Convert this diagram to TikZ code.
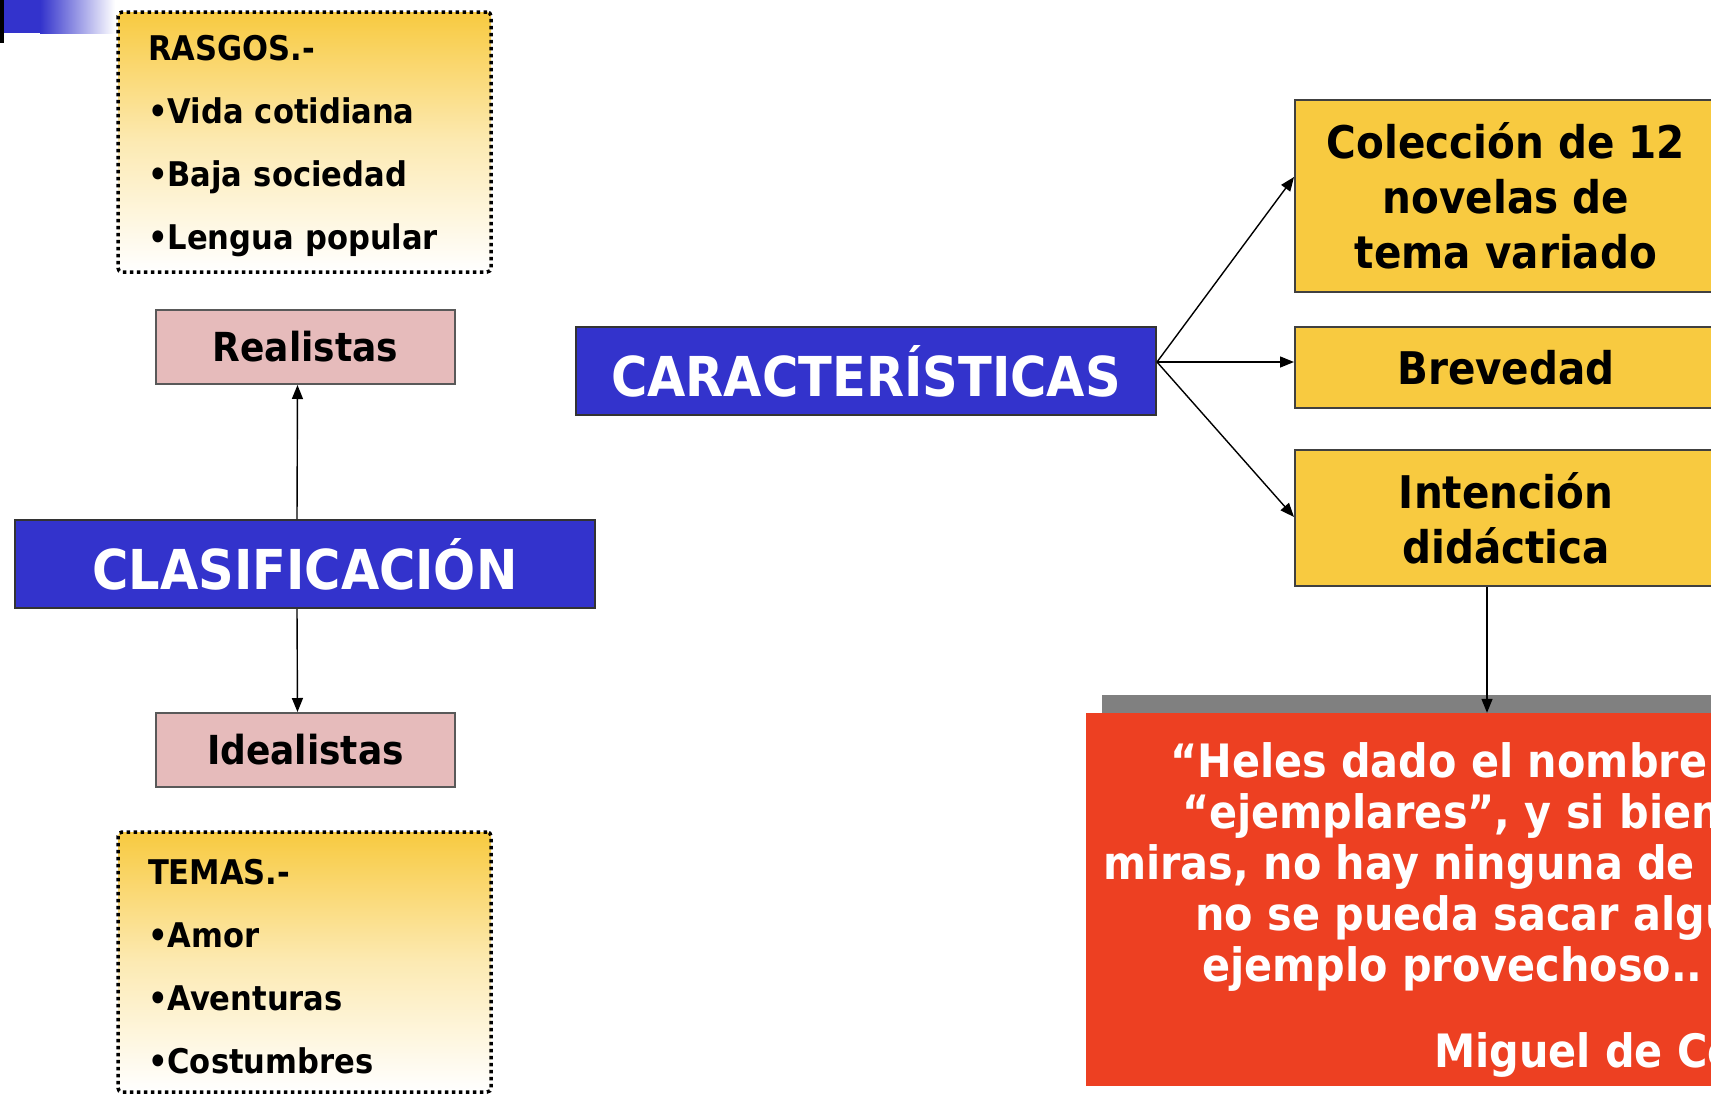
\documentclass[tikz,border=0pt]{standalone}
\usepackage{fontspec}
\setmainfont{DejaVu Sans Condensed}
\usepackage{tikz}
\usetikzlibrary{arrows.meta,shadows}

\definecolor{azul}{RGB}{51,51,204}
\definecolor{rosa}{RGB}{230,187,187}
\definecolor{amarillo}{RGB}{248,202,64}
\definecolor{rojo}{RGB}{237,64,34}

\tikzset{
  bluebox/.style={draw=black!80, line width=2pt, fill=azul, text=white,
    font=\fontsize{55}{60}\selectfont\bfseries,
    minimum width=580pt, minimum height=88pt, inner sep=0pt},
  pinkbox/.style={draw=black!65, line width=2pt, fill=rosa,
    font=\fontsize{40}{46}\selectfont\bfseries,
    minimum width=299pt, minimum height=74pt, inner sep=0pt},
  yellowbox/.style={draw=black!75, line width=2pt, fill=amarillo, align=center,
    font=\fontsize{45}{55}\selectfont\bfseries,
    minimum width=422pt, inner sep=0pt},
  notebox/.style={draw=black, line width=3.5pt, dash pattern=on 3.5pt off 3.5pt,
    rounded corners=4pt, top color=amarillo, bottom color=white,
    middle color=amarillo!40!white, align=left, text width=313pt,
    font=\fontsize{34}{63}\selectfont\bfseries,
    inner xsep=30pt, inner ysep=0pt, minimum height=260pt},
  quoteline/.style={text=white, anchor=base west, inner sep=0pt,
    font=\fontsize{46}{51}\selectfont\bfseries},
  link/.style={->, line width=1.4pt},
}

\begin{document}
\begin{tikzpicture}[x=1pt, y=-1pt, >={Triangle[length=14pt,width=11pt]}]
  \path[use as bounding box, clip] (0,0) rectangle (1711,1095);

  % slide corner
  \fill[azul] (0,0) rectangle (40,33);
  \shade[left color=azul, right color=white] (40,0) rectangle (115,33);
  \fill[black] (0,0) rectangle (4,43);

  % Nodes
  \node[notebox] (rasgos) at (304.5,142) {\rule{0pt}{33pt}RASGOS.-\\•Vida cotidiana\\•Baja sociedad\\•Lengua popular};
  \node[pinkbox] (real) at (305.5,347) {Realistas};
  \node[bluebox] (clas) at (305,564) {CLASIFICACIÓN};
  \node[pinkbox] (ideal) at (305.5,750) {Idealistas};
  \node[notebox] (temas) at (304.5,962) {\rule{0pt}{35pt}TEMAS.-\\•Amor\\•Aventuras\\•Costumbres};

  \node[bluebox] (carac) at (866,371) {CARACTERÍSTICAS};
  \node[yellowbox, minimum height=192pt] (col) at (1506,196) {Colección de 12\\novelas de\\tema variado};
  \node[yellowbox, minimum height=81pt] (brev) at (1506,367.5) {Brevedad};
  \node[yellowbox, minimum height=136pt] (inten) at (1506,518) {Intención\\didáctica};

  \node[fill=rojo, minimum width=744pt, minimum height=373pt, inner sep=0pt,
    drop shadow={shadow xshift=16pt, shadow yshift=18pt, fill=black!50, opacity=1}] (cita) at (1458,899.5) {};
  \node[quoteline] (q1) at (1170,777) {“Heles dado el nombre};
  \node[quoteline] (q2) at (1182,828) {“ejemplares”, y si bien};
  \node[quoteline] (q3) at (1103,879) {miras, no hay ninguna de};
  \node[quoteline] (q4) at (1195,930) {no se pueda sacar algu};
  \node[quoteline] (q5) at (1202,981) {ejemplo provechoso..};
  \node[quoteline] (autor) at (1434,1067) {Miguel de Cer};

  % Arrows
  \coordinate (hub) at ([yshift=9pt]carac.east);
  \draw[link] ([xshift=-8pt]clas.north) -- ([xshift=-8pt]real.south);
  \draw[link] ([xshift=-8pt]clas.south) -- ([xshift=-8pt]ideal.north);
  \draw[link] (hub) -- ([yshift=19pt]col.west);
  \draw[link] (hub) -- (hub -| brev.west);
  \draw[link] (hub) -- ([yshift=1pt]inten.west);
  \draw[link] ([xshift=-19pt]inten.south) -- ([xshift=-19pt]inten.south |- cita.north);
\end{tikzpicture}
\end{document}
